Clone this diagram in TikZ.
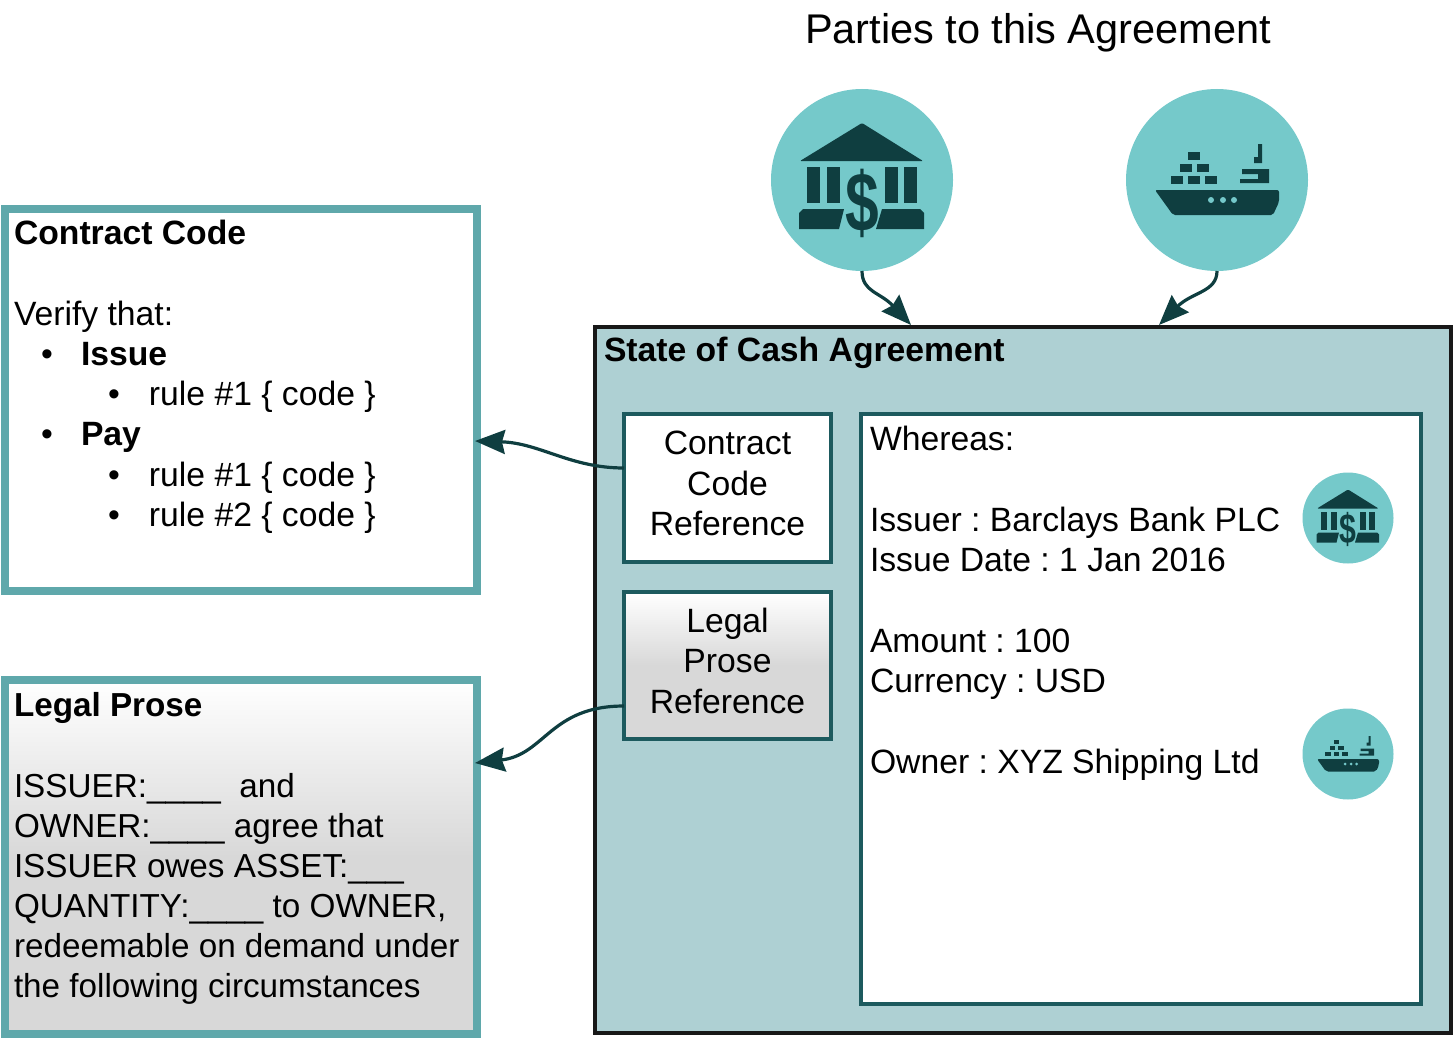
\documentclass[tikz,border=0pt]{standalone}
\usepackage{fontspec}
\setmainfont{Liberation Sans}
\usepackage{xcolor}
\usetikzlibrary{arrows.meta,positioning,calc}
\definecolor{partyfill}{HTML}{75C9CA}
\definecolor{icondark}{HTML}{0F3E40}
\definecolor{statefill}{HTML}{AED0D3}
\definecolor{refline}{HTML}{1D5A5E}
\definecolor{outerline}{HTML}{5FA8AB}
\definecolor{stateline}{HTML}{181818}
\definecolor{greyend}{HTML}{D8D8D8}
\pgfdeclareverticalshading{legalgrad}{100bp}{color(0bp)=(greyend); color(50bp)=(greyend); color(75bp)=(white); color(100bp)=(white)}
\frenchspacing
\newcommand{\bulletrow}[3]{\hspace*{#1}\makebox[#2][l]{\textbullet}#3}
\tikzset{
  txt/.style    ={inner sep=0pt,outer sep=0pt,align=left,font=\fontsize{33.7}{40.3}\selectfont},
  outerbox/.style={draw=outerline,line width=8pt,outer sep=0pt,inner sep=0pt},
  refbox/.style ={draw=refline,line width=4pt,outer sep=0pt,inner sep=0pt,minimum width=207pt,align=center,font=\fontsize{33.7}{40.3}\selectfont},
  party/.style  ={circle,fill=partyfill,inner sep=0pt,outer sep=0pt},
  flow/.style   ={-{Stealth[length=30pt,width=24pt,inset=3pt]},line width=3.2pt,draw=icondark},
  pics/bankicon/.style={code={
    \fill[icondark,rounded corners=1pt] (0,-57) -- (-62,-19) -- (61,-19) -- cycle;
    \foreach \colx in {-55,-35,23,42}
      \fill[icondark] (\colx,-13) rectangle ++(12.5,36);
    \fill[icondark] (-63,49) -- (-63,33) -- (-59,29) -- (-18,29) -- (-23,49) -- cycle;
    \fill[icondark] (14,49) -- (20,29) -- (58,29) -- (62,33) -- (62,49) -- cycle;
    \node[inner sep=0pt,text=icondark,transform shape,xscale=.72,font=\fontsize{84}{84}\selectfont\bfseries] (dollar) at (0,23) {\$};
  }},
  pics/shipicon/.style={code={
    \fill[icondark,rounded corners=2pt] (-62,10) -- (62,10) -- (62,22) -- (56,35) -- (-44,35) -- cycle;
    \foreach \boxx/\boxy in {-29/-28,-37/-16,-20/-16,-46/-4,-29/-4,-12/-4}
      \fill[icondark] (\boxx,\boxy) rectangle ++(11.5,7.5);
    \fill[icondark] (41,-36) -- (45,-36) -- (45,-17) -- (37,-17) -- (37,-23) -- (41,-23) -- cycle;
    \fill[icondark] (25,-11) -- (52,-11) -- (52,3) -- (23,3) -- (23,-1) -- (41,-1) -- (41,-6) -- (25,-6) -- cycle;
    \foreach \holex in {-6,6,17}
      \fill[partyfill] (\holex,20) circle (3);
  }},
}

\begin{document}
\begin{tikzpicture}[x=1pt,y=-1pt]
  \useasboundingbox (0,0) rectangle (1453,1038);
  % parties
  \node[txt,anchor=base,font=\fontsize{41.5}{47}\selectfont] (partiestitle) at (1038,44) {Parties to this Agreement};
  \node[party,minimum size=182pt] (bankparty) at (862,180) {};
  \node[party,minimum size=182pt] (shipparty) at (1217,180) {};
  \pic at (bankparty) {bankicon};
  \pic at (shipparty) {shipicon};
  % left boxes
  \node[outerbox,fill=white,minimum width=472.5pt,minimum height=382pt] (contractcode) at (240.75,400) {};
  \node[outerbox,shade,shading=legalgrad,minimum width=472.5pt,minimum height=354pt] (legalprose) at (240.75,857) {};
  \node[txt,anchor=north west] (contracttext) at (14,220) {\textbf{Contract Code}\\[40.3pt]Verify that:\\
    \bulletrow{27pt}{40pt}{\textbf{Issue}}\\
    \bulletrow{94pt}{41pt}{rule \#1 \{ code \}}\\
    \bulletrow{27pt}{40pt}{\textbf{Pay}}\\
    \bulletrow{94pt}{41pt}{rule \#1 \{ code \}}\\
    \bulletrow{94pt}{41pt}{rule \#2 \{ code \}}};
  \node[txt,anchor=north west,font=\fontsize{33.25}{40}\selectfont] (legaltext) at (14,692) {\textbf{Legal Prose}\\[41pt]ISSUER:\_\_\_\_~ and\\
    OWNER:\_\_\_\_ agree that\\
    ISSUER owes ASSET:\_\_\_\\
    QUANTITY:\_\_\_\_ to OWNER,\\
    redeemable on demand under\\
    the following circumstances};
  % state
  \node[draw=stateline,line width=4pt,fill=statefill,outer sep=0pt,minimum width=856pt,minimum height=706pt] (state) at (1023,680) {};
  \node[txt,anchor=north west] (statetitle) at (604,337.5) {\textbf{State of Cash Agreement}};
  \node[refbox,fill=white,minimum height=147.5pt,text depth=9pt] (contractref) at (727.5,488) {Contract\\Code\\Reference};
  \node[refbox,shade,shading=legalgrad,minimum height=147pt,text depth=10pt] (legalref) at (727.5,665.5) {Legal\\Prose\\Reference};
  \node[draw=refline,line width=4pt,fill=white,outer sep=0pt,minimum width=560pt,minimum height=590pt] (whereas) at (1141,709) {};
  \node[txt,anchor=north west] (whereastext) at (870,426.5) {Whereas:\\[40.3pt]Issuer : Barclays Bank PLC\\Issue Date : 1 Jan 2016\\[40.3pt]Amount : 100\\Currency : USD\\[40.3pt]Owner : XYZ Shipping Ltd};
  \node[party,minimum size=91pt] (banksmall) at (1348,518) {};
  \node[party,minimum size=91pt] (shipsmall) at (1348,754) {};
  \pic[scale=.5] at (banksmall) {bankicon};
  \pic[scale=.5] at (shipsmall) {shipicon};
  % connectors
  \coordinate (bankin) at (911,325);
  \coordinate (shipin) at (1159,325);
  \coordinate (codein) at (475,441);
  \coordinate (legalin) at (475,763);
  \draw[flow] (bankparty.south) .. controls (862,292) and (880,292) .. (bankin);
  \draw[flow] (shipparty.south) .. controls (1217,292) and (1192,292) .. (shipin);
  \draw[flow] ([yshift=20pt]contractref.west) .. controls (570,468) and (540,443) .. (codein);
  \draw[flow] ([yshift=-40.5pt]legalref.west) .. controls (550,706) and (545,755) .. (legalin);
\end{tikzpicture}
\end{document}
